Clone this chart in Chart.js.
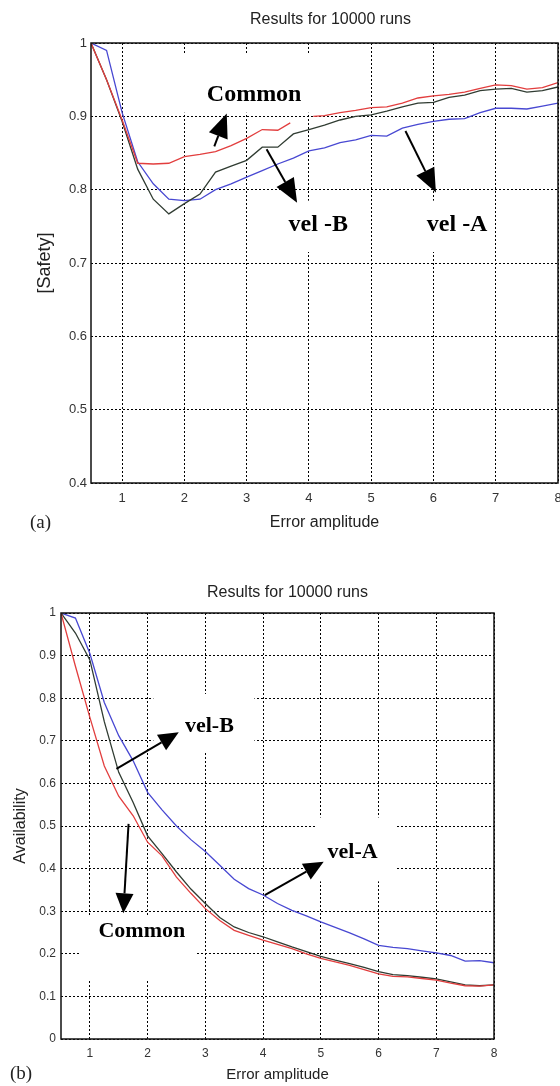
<!DOCTYPE html>
<html>
<head>
<meta charset="utf-8">
<script src="https://cdn.jsdelivr.net/npm/chart.js@4.4.1/dist/chart.umd.min.js"></script>
<style>
  html, body { margin: 0; padding: 0; background: #fff; }
  .panel { position: absolute; left: 0; }
  .panel canvas { display: block; }
  #safetyWrap { top: 0; }
  #availWrap { top: 555px; }
</style>
</head>
<body>
<div class="panel" id="safetyWrap"><canvas id="safetyChart" width="560" height="555"></canvas></div>
<div class="panel" id="availWrap"><canvas id="availChart" width="560" height="531"></canvas></div>
<script>
// error amplitude samples
var amplitude = [0.5, 0.75, 1, 1.25, 1.5, 1.75, 2, 2.25, 2.5, 2.75, 3, 3.25, 3.5, 3.75, 4, 4.25,
  4.5, 4.75, 5, 5.25, 5.5, 5.75, 6, 6.25, 6.5, 6.75, 7, 7.25, 7.5, 7.75, 8];
// the red safety curve has a break near 3.8
var safetyCommonAmp = [0.5, 0.75, 1, 1.25, 1.5, 1.75, 2, 2.25, 2.5, 2.75, 3, 3.25, 3.5, 3.7, 3.85, 4.07, 4.25,
  4.5, 4.75, 5, 5.25, 5.5, 5.75, 6, 6.25, 6.5, 6.75, 7, 7.25, 7.5, 7.75, 8];

var safetyCommon = [1.0, 0.95, 0.895, 0.836, 0.835, 0.836, 0.845, 0.848, 0.852, 0.86, 0.87, 0.882, 0.881, 0.891, null, 0.9, 0.901,
  0.905, 0.908, 0.912, 0.913, 0.918, 0.925, 0.928, 0.93, 0.933, 0.938, 0.943, 0.942, 0.937, 0.939, 0.946];
var safetyVelB = [1.0, 0.95, 0.893, 0.828, 0.787, 0.767, 0.781, 0.794, 0.824, 0.832, 0.84, 0.858, 0.858, 0.876, 0.882, 0.888,
  0.895, 0.9, 0.902, 0.907, 0.913, 0.918, 0.919, 0.926, 0.929, 0.935, 0.937, 0.938, 0.933, 0.935, 0.94];
var safetyVelA = [1.0, 0.99, 0.905, 0.838, 0.808, 0.787, 0.785, 0.787, 0.8, 0.808, 0.817, 0.826, 0.835, 0.843, 0.853, 0.857,
  0.864, 0.868, 0.874, 0.873, 0.884, 0.889, 0.893, 0.896, 0.897, 0.905, 0.911, 0.911, 0.91, 0.914, 0.918];

var availCommon = [1.0, 0.875, 0.755, 0.641, 0.57, 0.524, 0.462, 0.43, 0.38, 0.342, 0.306, 0.278, 0.255, 0.243, 0.232, 0.222,
  0.212, 0.2, 0.189, 0.181, 0.173, 0.163, 0.153, 0.147, 0.146, 0.142, 0.138, 0.131, 0.125, 0.124, 0.127];
var availVelB = [1.0, 0.953, 0.89, 0.745, 0.626, 0.555, 0.477, 0.435, 0.392, 0.352, 0.318, 0.285, 0.263, 0.25, 0.24, 0.228,
  0.216, 0.205, 0.194, 0.185, 0.177, 0.168, 0.158, 0.151, 0.149, 0.145, 0.141, 0.134, 0.127, 0.125, 0.127];
var availVelA = [1.0, 0.988, 0.905, 0.79, 0.712, 0.653, 0.579, 0.538, 0.5, 0.468, 0.44, 0.408, 0.375, 0.353, 0.338, 0.318,
  0.302, 0.289, 0.275, 0.262, 0.249, 0.235, 0.22, 0.215, 0.212, 0.207, 0.202, 0.196, 0.183, 0.184, 0.179];

var xTicks = [1, 2, 3, 4, 5, 6, 7, 8];
var safetyTicks = [0.4, 0.5, 0.6, 0.7, 0.8, 0.9, 1];
var availTicks = [0, 0.1, 0.2, 0.3, 0.4, 0.5, 0.6, 0.7, 0.8, 0.9, 1];

// callouts, in data units: text centre, white patch, arrow tail -> tip
var safetyNotes = [
  { text: 'Common', at: [3.12, 0.930], box: [1.95, 4.05, 0.985, 0.905], from: [2.48, 0.859], to: [2.68, 0.904] },
  { text: 'vel -B', at: [4.15, 0.752], box: [3.65, 4.65, 0.785, 0.715], from: [3.32, 0.855], to: [3.81, 0.782] },
  { text: 'vel -A', at: [6.38, 0.752], box: [5.85, 6.9, 0.785, 0.715], from: [5.55, 0.880], to: [6.04, 0.796] }
];
var availNotes = [
  { text: 'vel-B', at: [3.07, 0.735], box: [2.1, 3.85, 0.81, 0.675], from: [1.46, 0.634], to: [2.54, 0.72] },
  { text: 'vel-A', at: [5.55, 0.439], box: [4.9, 6.3, 0.52, 0.37], from: [4.03, 0.3375], to: [5.05, 0.416] },
  { text: 'Common', at: [1.9, 0.252], box: [0.82, 2.84, 0.29, 0.14], from: [1.67, 0.505], to: [1.58, 0.295] }
];

var SANS = '"Liberation Sans", Arial, sans-serif';
var SERIF = '"Liberation Serif", "Times New Roman", serif';

function pts(xs, ys) {
  return xs.map(function(x, i) { return { x: x, y: ys[i] }; });
}

function decor(cfg) {
  return {
    id: 'decor',
    beforeDatasetsDraw: function(chart) {
      var ctx = chart.ctx, xs = chart.scales.x, ys = chart.scales.y;
      ctx.save();
      ctx.fillStyle = '#fff';
      cfg.notes.forEach(function(n) {
        var l = xs.getPixelForValue(n.box[0]), r = xs.getPixelForValue(n.box[1]);
        var t = ys.getPixelForValue(n.box[2]), b = ys.getPixelForValue(n.box[3]);
        ctx.fillRect(l, t, r - l, b - t);
      });
      ctx.restore();
    },
    afterDatasetsDraw: function(chart) {
      var ctx = chart.ctx, xs = chart.scales.x, ys = chart.scales.y, a = chart.chartArea;
      ctx.save();
      ctx.strokeStyle = '#111';
      ctx.lineWidth = 1.5;
      ctx.strokeRect(a.left, a.top, a.right - a.left, a.bottom - a.top);

      cfg.notes.forEach(function(n) {
        var x0 = xs.getPixelForValue(n.from[0]), y0 = ys.getPixelForValue(n.from[1]);
        var x1 = xs.getPixelForValue(n.to[0]), y1 = ys.getPixelForValue(n.to[1]);
        var ang = Math.atan2(y1 - y0, x1 - x0);
        var L = cfg.headLen, W = cfg.headHalf;
        var bx = x1 - L * Math.cos(ang), by = y1 - L * Math.sin(ang);
        ctx.strokeStyle = '#000';
        ctx.lineWidth = 2;
        ctx.beginPath();
        ctx.moveTo(x0, y0);
        ctx.lineTo(bx, by);
        ctx.stroke();
        ctx.fillStyle = '#000';
        ctx.beginPath();
        ctx.moveTo(x1, y1);
        ctx.lineTo(bx + W * Math.sin(ang), by - W * Math.cos(ang));
        ctx.lineTo(bx - W * Math.sin(ang), by + W * Math.cos(ang));
        ctx.closePath();
        ctx.fill();

        ctx.font = 'bold ' + cfg.noteSize + 'px ' + SERIF;
        ctx.textAlign = 'center';
        ctx.textBaseline = 'middle';
        ctx.fillText(n.text, xs.getPixelForValue(n.at[0]), ys.getPixelForValue(n.at[1]));
      });
      ctx.restore();
    },
    afterDraw: function(chart) {
      var ctx = chart.ctx, a = chart.chartArea;
      ctx.save();
      ctx.fillStyle = '#222';
      ctx.textBaseline = 'middle';
      ctx.textAlign = 'center';
      ctx.font = cfg.titleSize + 'px ' + SANS;
      ctx.fillText('Results for 10000 runs', (a.left + a.right) / 2 + cfg.titleShift, cfg.titleY);
      ctx.textAlign = 'left';
      ctx.font = '19px ' + SERIF;
      ctx.fillText(cfg.panel, cfg.panelX, cfg.panelY);
      ctx.restore();
    }
  };
}

function lineSet(data, color) {
  return { data: data, borderColor: color, borderWidth: 1.3, pointRadius: 0, tension: 0, fill: false };
}

function makeChart(id, o) {
  return new Chart(document.getElementById(id).getContext('2d'), {
    type: 'line',
    data: {
      datasets: [
        lineSet(o.common, 'rgb(226, 62, 62)'),
        lineSet(o.velB, 'rgb(48, 60, 50)'),
        lineSet(o.velA, 'rgb(72, 72, 210)')
      ]
    },
    options: {
      responsive: false,
      animation: false,
      layout: { padding: { top: o.plotTop, right: o.padRight, left: 0, bottom: 0 } },
      plugins: { legend: { display: false }, tooltip: { enabled: false }, title: { display: false } },
      scales: {
        x: {
          type: 'linear', min: 0.5, max: 8,
          afterBuildTicks: function(s) { s.ticks = xTicks.map(function(v) { return { value: v }; }); },
          afterFit: function(s) { s.height = o.xHeight; s.paddingRight = 0; s.paddingLeft = 0; },
          grid: { color: '#000', lineWidth: 1, drawTicks: false },
          border: { display: false, dash: [2, 2] },
          ticks: { padding: o.xTickPad, color: '#333', font: { family: SANS, size: o.tickSize },
            callback: function(v) { return String(v); } },
          title: { display: true, text: 'Error amplitude', color: '#222',
            font: { family: SANS, size: o.xTitleSize }, padding: { top: 0, bottom: o.xTitlePad } }
        },
        y: {
          min: o.yTicks[0], max: o.yTicks[o.yTicks.length - 1],
          afterBuildTicks: function(s) { s.ticks = o.yTicks.map(function(v) { return { value: v }; }); },
          afterFit: function(s) { s.width = o.yWidth; },
          grid: { color: '#000', lineWidth: 1, drawTicks: false },
          border: { display: false, dash: [2, 2] },
          ticks: { padding: o.yTickPad, color: '#333', font: { family: SANS, size: o.tickSize },
            callback: function(v) { return String(Math.round(v * 10) / 10); } },
          title: { display: true, text: o.yTitle, color: '#222',
            font: { family: SANS, size: o.yTitleSize }, padding: { top: o.yTitlePad, bottom: 0 } }
        }
      }
    },
    plugins: [decor(o.decor)]
  });
}

makeChart('safetyChart', {
  common: pts(safetyCommonAmp, safetyCommon),
  velB: pts(amplitude, safetyVelB),
  velA: pts(amplitude, safetyVelA),
  yTicks: safetyTicks, yTitle: '[Safety]',
  plotTop: 43, padRight: 2, xHeight: 72, yWidth: 91,
  tickSize: 13, xTickPad: 8, yTickPad: 4,
  xTitleSize: 16, xTitlePad: 23, yTitleSize: 18, yTitlePad: 34,
  decor: { notes: safetyNotes, noteSize: 24, headLen: 24, headHalf: 10,
    titleSize: 16, titleShift: 6, titleY: 20, panel: '(a)', panelX: 30, panelY: 523 }
});

makeChart('availChart', {
  common: pts(amplitude, availCommon),
  velB: pts(amplitude, availVelB),
  velA: pts(amplitude, availVelA),
  yTicks: availTicks, yTitle: 'Availability',
  plotTop: 58, padRight: 66, xHeight: 47, yWidth: 61,
  tickSize: 12, xTickPad: 7, yTickPad: 5,
  xTitleSize: 15, xTitlePad: 2, yTitleSize: 16, yTitlePad: 11,
  decor: { notes: availNotes, noteSize: 22, headLen: 20, headHalf: 9,
    titleSize: 16, titleShift: 10, titleY: 38, panel: '(b)', panelX: 10, panelY: 519 }
});
</script>
</body>
</html>
